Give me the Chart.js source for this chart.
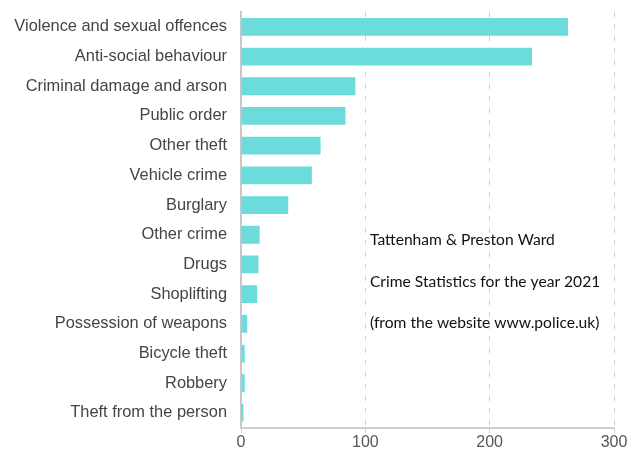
<!DOCTYPE html>
<html lang="en">
<head>
    <meta charset="UTF-8">
    <title>Tattenham & Preston Ward - Crime Statistics 2021</title>
    <script src="https://cdn.jsdelivr.net/npm/chart.js"></script>
    <style>
        html, body { margin: 0; padding: 0; background: #fff; }
        .chart-container { position: relative; width: 638px; height: 455px; }
    </style>
</head>
<body>
    <div class="chart-container">
        <canvas id="crimeChart"></canvas>
    </div>

<script>
    // Crime categories (top to bottom)
    const categories = [
        'Violence and sexual offences',
        'Anti-social behaviour',
        'Criminal damage and arson',
        'Public order',
        'Other theft',
        'Vehicle crime',
        'Burglary',
        'Other crime',
        'Drugs',
        'Shoplifting',
        'Possession of weapons',
        'Bicycle theft',
        'Robbery',
        'Theft from the person'
    ];
    // Number of crimes in 2021
    const crimeCounts = [263, 234, 92, 84, 64, 57, 38, 15, 14, 13, 5, 3, 3, 2];
    const xTicks = [0, 100, 200, 300];

    const noteLines = [
        'Tattenham & Preston Ward',
        'Crime Statistics for the year 2021',
        '(from the website www.police.uk)'
    ];

    // draws the note text in the empty part of the plot
    const notePlugin = {
        id: 'note',
        afterDraw(chart) {
            const ctx = chart.ctx;
            ctx.save();
            ctx.font = '15.6px Lato, "Open Sans", sans-serif';
            ctx.fillStyle = '#111';
            ctx.textBaseline = 'middle';
            noteLines.forEach((line, i) => {
                ctx.fillText(line, 370, 240 + i * 41.5);
            });
            ctx.restore();
        }
    };

    const ctx = document.getElementById('crimeChart').getContext('2d');
    const crimeChart = new Chart(ctx, {
        type: 'bar',
        data: {
            labels: categories,
            datasets: [{
                label: 'Crimes',
                data: crimeCounts,
                backgroundColor: '#6bdbdb',
                borderWidth: 0,
                barPercentage: 0.6,
                categoryPercentage: 1
            }]
        },
        options: {
            indexAxis: 'y',
            responsive: true,
            maintainAspectRatio: false,
            animation: false,
            layout: { padding: { left: 10, right: 24, top: 12, bottom: 3 } },
            plugins: {
                legend: { display: false },
                tooltip: { enabled: false }
            },
            scales: {
                x: {
                    min: 0,
                    max: 300,
                    afterBuildTicks(scale) {
                        scale.ticks = xTicks.map(v => ({ value: v }));
                    },
                    grid: {
                        color: '#d0d0d0',
                        lineWidth: 1,
                        tickLength: 5,
                        tickColor: '#d0d0d0',
                        tickBorderDash: []
                    },
                    border: { display: true, color: '#cfcfcf', width: 2, dash: [5, 7] },
                    ticks: {
                        color: '#555',
                        font: { family: '"Liberation Sans", Arial, sans-serif', size: 16 },
                        padding: 0,
                        maxRotation: 0
                    }
                },
                y: {
                    grid: { display: false, drawTicks: false },
                    border: { display: true, color: '#c8c8c8', width: 2 },
                    afterFit(scale) {
                        scale.width = 231;
                        // bars are offset, so no room is needed for half labels
                        scale.paddingTop = 0;
                        scale.paddingBottom = 0;
                    },
                    ticks: {
                        color: '#444',
                        font: { family: '"Liberation Sans", Arial, sans-serif', size: 16.4 },
                        padding: 14,
                        autoSkip: false
                    }
                }
            }
        },
        plugins: [notePlugin]
    });
</script>
</body>
</html>
